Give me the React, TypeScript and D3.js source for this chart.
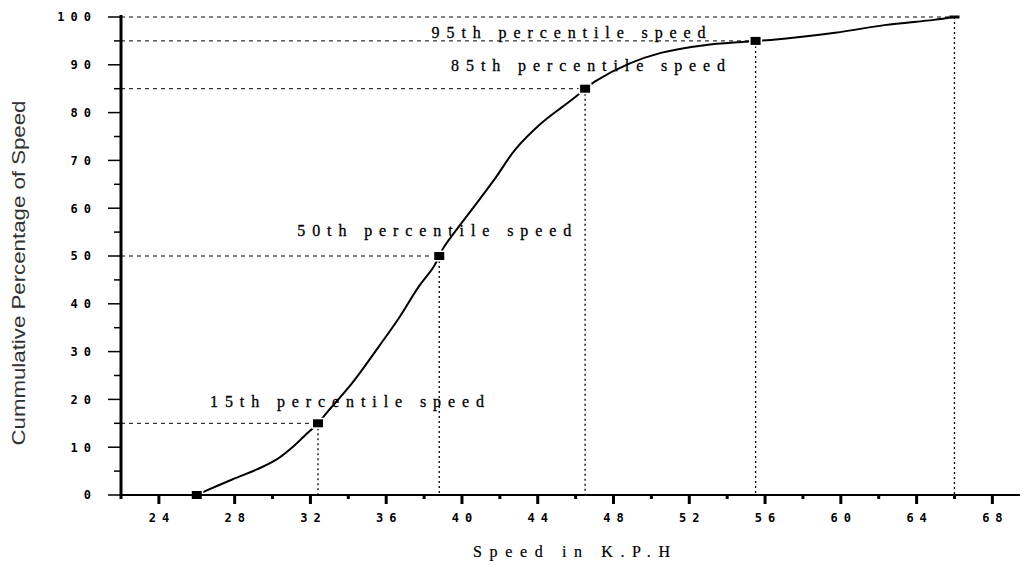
import React from "react";
import * as d3 from "d3";

// cumulative speed curve (km/h, %)
const speeds = [26.0, 26.5, 27.9, 29.2, 30.2, 31.05, 31.8, 32.4, 32.9, 34.2, 35.6, 36.7, 37.7, 38.5, 38.8, 39.05, 40.9, 41.8, 42.8, 44.2, 45.3, 46.0, 46.5, 47.05, 48.8, 50.5, 52.8, 54.9, 55.5, 56.3, 59.7, 62.3, 64.9, 66.0];
const cumPct = [0, 0.9, 3.3, 5.4, 7.4, 10.0, 12.8, 15, 17.4, 23.4, 31.0, 37.2, 43.5, 47.7, 50, 51.9, 61.7, 66.5, 72.2, 77.8, 81.2, 83.3, 85, 86.6, 90.2, 92.5, 94.1, 94.8, 95, 95.2, 96.7, 98.3, 99.4, 100];

// marked percentiles
const markSpeed = [26.0, 32.4, 38.8, 46.5, 55.5, 66.0];
const markPct = [0, 15, 50, 85, 95, 100];

const labelNames = ["15th percentile speed", "50th percentile speed", "85th percentile speed", "95th percentile speed"];
const labelPct = [15, 50, 85, 95];
// label placement relative to its marker (px)
const labelOffset = [[-108, -16], [-142, -20], [-134, -18], [-324, -3]];

const xTicks = [24, 28, 32, 36, 40, 44, 48, 52, 56, 60, 64, 68];
const xMinor = [22, 26, 30, 34, 38, 42, 46, 50, 54, 58, 62, 66];
const yTicks = [0, 10, 20, 30, 40, 50, 60, 70, 80, 90, 100];
const yMinor = [5, 15, 25, 35, 45, 55, 65, 75, 85, 95];

const W = 1028;
const H = 568;

const App = () => {
  const x = d3.scaleLinear().domain([22, 69.3]).range([121, 1017]);
  const y = d3.scaleLinear().domain([0, 100]).range([495, 17]);

  const pts: [number, number][] = speeds.map((s, i) => [s, cumPct[i]]);
  const line = d3
    .line<[number, number]>()
    .x(d => x(d[0]))
    .y(d => y(d[1]))
    .curve(d3.curveCatmullRom.alpha(0.5));

  const tickFont = "'DejaVu Sans Mono', monospace";
  const ls = 6;

  return (
    <svg width={W} height={H} style={{ position: "absolute", left: 0, top: 0, background: "#fff" }}>
      {/* reference lines */}
      {markSpeed.map((s, i) =>
        i === 0 ? null : (
          <g key={"ref" + i}>
            <line x1={x(22)} x2={x(s)} y1={y(markPct[i])} y2={y(markPct[i])} stroke="#000" strokeWidth={1} strokeDasharray="4,4" />
            <line x1={x(s)} x2={x(s)} y1={y(markPct[i])} y2={y(0)} stroke="#000" strokeWidth={1.3} strokeDasharray="2,3" />
          </g>
        )
      )}

      {/* curve */}
      <path d={line(pts) || ""} fill="none" stroke="#000" strokeWidth={2} />

      {/* markers */}
      {markSpeed.map((s, i) => {
        const h = i === markSpeed.length - 1 ? 3 : 8;
        return (
          <rect key={"m" + i} x={x(s) - 5} y={y(markPct[i]) - h / 2} width={10} height={h} fill="#000" stroke="#fff" strokeWidth={i === markSpeed.length - 1 ? 0 : 3} paintOrder="stroke" />
        );
      })}

      {/* labels */}
      {labelNames.map((t, i) => {
        const k = markPct.indexOf(labelPct[i]);
        return (
          <text key={t} x={x(markSpeed[k]) + labelOffset[i][0]} y={y(labelPct[i]) + labelOffset[i][1]} fontFamily="'Liberation Serif', serif" fontSize={16} textLength={274} lengthAdjust="spacing" fill="#000" stroke="#000" strokeWidth={0.3}>
            {t}
          </text>
        );
      })}

      {/* y axis */}
      <line x1={x(22)} x2={x(22)} y1={y(100) - 2} y2={y(0) + 1} stroke="#000" strokeWidth={3} />
      {yTicks.map(t => (
        <g key={"yt" + t}>
          <line x1={108} x2={x(22)} y1={y(t)} y2={y(t)} stroke="#000" strokeWidth={1.5} />
          <text x={91} dx={ls} y={y(t)} dy="0.36em" textAnchor="end" fontFamily={tickFont} fontWeight="bold" fontSize={12} letterSpacing={ls} fill="#000">
            {t}
          </text>
        </g>
      ))}
      {yMinor.map(t => (
        <line key={"ym" + t} x1={114} x2={x(22)} y1={y(t)} y2={y(t)} stroke="#000" strokeWidth={1.5} />
      ))}

      {/* x axis */}
      <line x1={x(22) - 1} x2={1020} y1={y(0)} y2={y(0)} stroke="#000" strokeWidth={2} />
      {xTicks.map(t => (
        <g key={"xt" + t}>
          <line x1={x(t)} x2={x(t)} y1={y(0)} y2={y(0) + 9} stroke="#000" strokeWidth={3} />
          <text x={x(t)} dx={ls / 2} y={518} dy="0.36em" textAnchor="middle" fontFamily={tickFont} fontWeight="bold" fontSize={12} letterSpacing={ls} fill="#000">
            {t}
          </text>
        </g>
      ))}
      {xMinor.map(t => (
        <line key={"xm" + t} x1={x(t)} x2={x(t)} y1={y(0)} y2={y(0) + 4} stroke="#000" strokeWidth={3} />
      ))}

      {/* axis titles */}
      <text x={473} y={557} fontFamily="'Liberation Serif', serif" fontSize={16} textLength={197} lengthAdjust="spacing" fill="#000" stroke="#000" strokeWidth={0.2}>
        Speed in K.P.H
      </text>
      <text transform="translate(25,273) rotate(-90)" textAnchor="middle" fontFamily="'Liberation Sans', Arial, sans-serif" fontSize={18} textLength={345} lengthAdjust="spacingAndGlyphs" fill="#333">
        Cummulative Percentage of Speed
      </text>
    </svg>
  );
};

export default App;
